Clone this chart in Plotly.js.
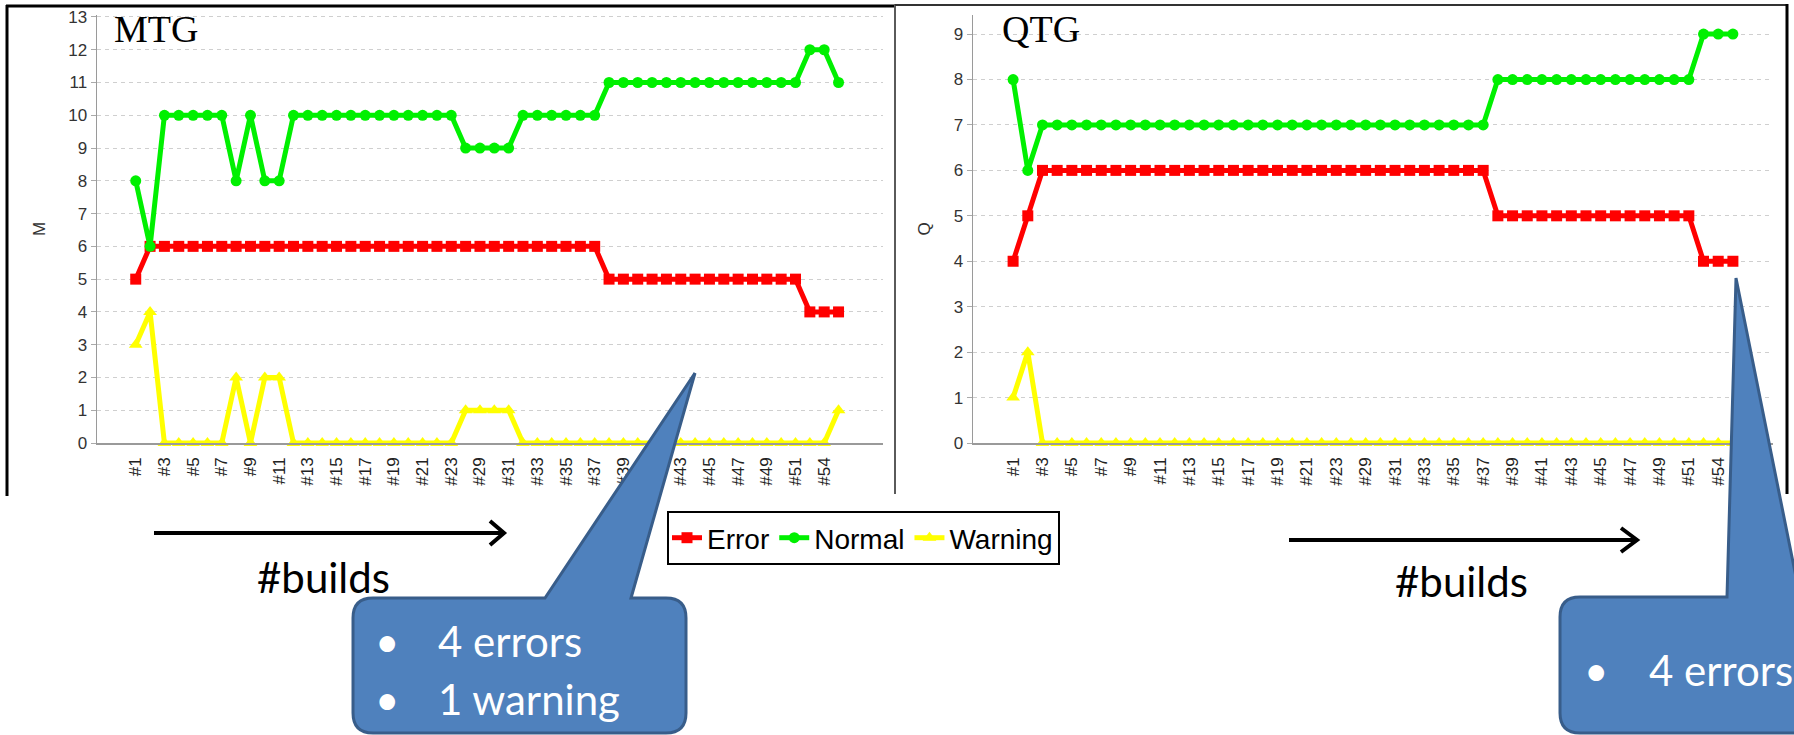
<!DOCTYPE html>
<html>
<head>
<meta charset="utf-8">
<script src="https://cdn.plot.ly/plotly-3.0.1.min.js"></script>
<style>html,body{margin:0;padding:0;background:#fff;}#chart{width:1794px;height:735px;}</style>
</head>
<body>
<div id="chart"></div>
<script>
// ---- data ----
const builds = ['#1','#2','#3','#4','#5','#6','#7','#8','#9','#10','#11','#12','#13','#14','#15','#16','#17','#18','#19','#20','#21','#22','#23','#28','#29','#30','#31','#32','#33','#34','#35','#36','#37','#38','#39','#40','#41','#42','#43','#44','#45','#46','#47','#48','#49','#50','#51','#53','#54','#55'];

const mtgError   = [5,6,6,6,6,6,6,6,6,6,6,6,6,6,6,6,6,6,6,6,6,6,6,6,6,6,6,6,6,6,6,6,6,5,5,5,5,5,5,5,5,5,5,5,5,5,5,4,4,4];
const mtgNormal  = [8,6,10,10,10,10,10,8,10,8,8,10,10,10,10,10,10,10,10,10,10,10,10,9,9,9,9,10,10,10,10,10,10,11,11,11,11,11,11,11,11,11,11,11,11,11,11,12,12,11];
const mtgWarning = [3,4,0,0,0,0,0,2,0,2,2,0,0,0,0,0,0,0,0,0,0,0,0,1,1,1,1,0,0,0,0,0,0,0,0,0,0,0,0,0,0,0,0,0,0,0,0,0,0,1];

const qtgError   = [4,5,6,6,6,6,6,6,6,6,6,6,6,6,6,6,6,6,6,6,6,6,6,6,6,6,6,6,6,6,6,6,6,5,5,5,5,5,5,5,5,5,5,5,5,5,5,4,4,4];
const qtgNormal  = [8,6,7,7,7,7,7,7,7,7,7,7,7,7,7,7,7,7,7,7,7,7,7,7,7,7,7,7,7,7,7,7,7,8,8,8,8,8,8,8,8,8,8,8,8,8,8,9,9,9];
const qtgWarning = [1,2,0,0,0,0,0,0,0,0,0,0,0,0,0,0,0,0,0,0,0,0,0,0,0,0,0,0,0,0,0,0,0,0,0,0,0,0,0,0,0,0,0,0,0,0,0,0,0,0];

const seriesNames = ['Error','Normal','Warning'];
const chartLabels = ['MTG','QTG'];
const yTitles = ['M','Q'];
const calloutLeft = ['4 errors','1 warning'];
const calloutRight = ['4 errors'];
const buildsLabel = '#builds';

// ---- helpers ----
const W = 1794, H = 735;
const X = p => p / W;
const Y = p => 1 - p / H;
const pt = (x, y) => X(x).toFixed(5) + ',' + Y(y).toFixed(5);
const tickBuilds = builds.filter((b, i) => i % 2 === 0);

const colors = {Error:'#ff0000', Normal:'#00f000', Warning:'#ffff00'};
const symbols = {Error:'square', Normal:'circle', Warning:'triangle-up'};
const sizes = {Error:11, Normal:11, Warning:12};
const SANS = 'Liberation Sans, Arial, sans-serif';

function mk(name, ys, xa, ya, show) {
  return {
    type:'scatter', mode:'lines+markers', name:name, x:builds, y:ys,
    xaxis:xa, yaxis:ya, legendgroup:name, showlegend:show,
    line:{color:colors[name], width:5},
    marker:{color:colors[name], symbol:symbols[name], size:sizes[name]},
    cliponaxis:false
  };
}

const traces = [
  mk(seriesNames[0], mtgError, 'x', 'y', true),
  mk(seriesNames[1], mtgNormal, 'x', 'y', true),
  mk(seriesNames[2], mtgWarning, 'x', 'y', true),
  mk(seriesNames[0], qtgError, 'x2', 'y2', false),
  mk(seriesNames[1], qtgNormal, 'x2', 'y2', false),
  mk(seriesNames[2], qtgWarning, 'x2', 'y2', false)
];

function xAxis(d0, d1, range, anchor) {
  return {
    domain:[X(d0), X(d1)], anchor:anchor, type:'category', range:range,
    tickmode:'array', tickvals:tickBuilds, ticktext:tickBuilds, tickangle:-90,
    tickfont:{family:SANS, size:17, color:'#222'},
    ticks:'outside', ticklen:6, tickcolor:'rgba(0,0,0,0)',
    showgrid:false, zeroline:false, showline:true, linecolor:'#9a9a9a', linewidth:1.5,
    fixedrange:true
  };
}
function yAxis(top, range, anchor, title) {
  return {
    domain:[Y(443), Y(top)], anchor:anchor, range:range, dtick:1, tick0:0,
    tickfont:{family:SANS, size:17, color:'#333'},
    ticks:'outside', ticklen:5, tickcolor:'#aaaaaa',
    showgrid:true, gridcolor:'#cfcfcf', gridwidth:1, griddash:'4px,4px',
    zeroline:false, showline:true, linecolor:'#9a9a9a', linewidth:1.5,
    title:{text:title, font:{family:SANS, size:17, color:'#333'}, standoff:18},
    fixedrange:true
  };
}

const lineShape = (x0,y0,x1,y1,color,width) => ({type:'line', xref:'paper', yref:'paper',
  x0:X(x0), y0:Y(y0), x1:X(x1), y1:Y(y1), line:{color:color, width:width}});
const pathShape = (d, fill, color, width) => ({type:'path', xref:'paper', yref:'paper', path:d,
  fillcolor:fill, line:{color:color, width:width}, layer:'above'});

const leftCallout = 'M' + pt(373,598) + ' L' + pt(545,598) + ' L' + pt(695,373) + ' L' + pt(631,598) +
  ' L' + pt(666,598) + ' Q' + pt(686,598) + ' ' + pt(686,618) + ' L' + pt(686,713) + ' Q' + pt(686,733) + ' ' + pt(666,733) +
  ' L' + pt(373,733) + ' Q' + pt(353,733) + ' ' + pt(353,713) + ' L' + pt(353,618) + ' Q' + pt(353,598) + ' ' + pt(373,598) + ' Z';
const rightCallout = 'M' + pt(1580,597) + ' L' + pt(1727,597) + ' L' + pt(1736,278) + ' L' + pt(1800,597) +
  ' L' + pt(1900,597) + ' L' + pt(1900,733) + ' L' + pt(1580,733) + ' Q' + pt(1560,733) + ' ' + pt(1560,713) +
  ' L' + pt(1560,617) + ' Q' + pt(1560,597) + ' ' + pt(1580,597) + ' Z';

const shapes = [
  lineShape(7,5,7,496,'#000',3),
  lineShape(6,6,895,6,'#000',3),
  lineShape(895,4,895,494,'#5a5a5a',2),
  lineShape(895,5,1788,5,'#333',2),
  lineShape(1787,4,1787,494,'#000',3),
  pathShape('M' + pt(154,533) + ' L' + pt(503,533), 'rgba(0,0,0,0)', '#000', 4),
  pathShape('M' + pt(490,521) + ' L' + pt(504,533) + ' L' + pt(490,545), 'rgba(0,0,0,0)', '#000', 4),
  pathShape('M' + pt(1289,540) + ' L' + pt(1636,540), 'rgba(0,0,0,0)', '#000', 4),
  pathShape('M' + pt(1621,528) + ' L' + pt(1637,540) + ' L' + pt(1621,552), 'rgba(0,0,0,0)', '#000', 4),
  pathShape(leftCallout, '#4f81bd', '#385d8a', 3),
  pathShape(rightCallout, '#4f81bd', '#385d8a', 3)
];

const BODY = 'Lato, Open Sans, sans-serif';
const txt = (t, x, y, font, xanchor) => ({text:t, xref:'paper', yref:'paper', x:X(x), y:Y(y),
  xanchor:xanchor || 'left', yanchor:'middle', showarrow:false, font:font});
const serif = {family:'Liberation Serif, Times New Roman, serif', size:38, color:'#000'};
const black42 = {family:BODY, size:42, color:'#000'};
const white42 = {family:BODY, size:42, color:'#fff'};

const annotations = [
  txt(chartLabels[0], 112, 29, serif),
  txt(chartLabels[1], 1000, 29, serif),
  txt(buildsLabel, 323, 577, black42, 'center'),
  txt(buildsLabel, 1461, 581, black42, 'center'),
  txt('•', 387, 641, white42, 'center'),
  txt(calloutLeft[0], 436, 641, white42),
  txt('•', 387, 699, white42, 'center'),
  txt(calloutLeft[1], 436, 699, white42),
  txt('•', 1596, 670, white42, 'center'),
  txt(calloutRight[0], 1647, 670, white42)
];

const layout = {
  width:W, height:H, margin:{l:0, r:0, t:0, b:0, pad:0},
  paper_bgcolor:'#fff', plot_bgcolor:'#fff',
  font:{family:SANS, color:'#333'},
  xaxis: xAxis(97, 883, [-2.7, 52.1], 'y'),
  yaxis: yAxis(15, [0, 13.06], 'x', yTitles[0]),
  xaxis2: xAxis(973, 1773, [-2.73, 51.73], 'y2'),
  yaxis2: yAxis(15, [0, 9.42], 'x2', yTitles[1]),
  showlegend:true,
  legend:{orientation:'h', x:X(667), y:Y(511), xanchor:'left', yanchor:'top',
    bgcolor:'#fff', bordercolor:'#000', borderwidth:2,
    font:{family:SANS, size:28, color:'#000'}, itemclick:false, itemdoubleclick:false},
  shapes:shapes,
  annotations:annotations,
  hovermode:false
};

Plotly.newPlot('chart', traces, layout, {displayModeBar:false, staticPlot:true});
</script>
</body>
</html>
